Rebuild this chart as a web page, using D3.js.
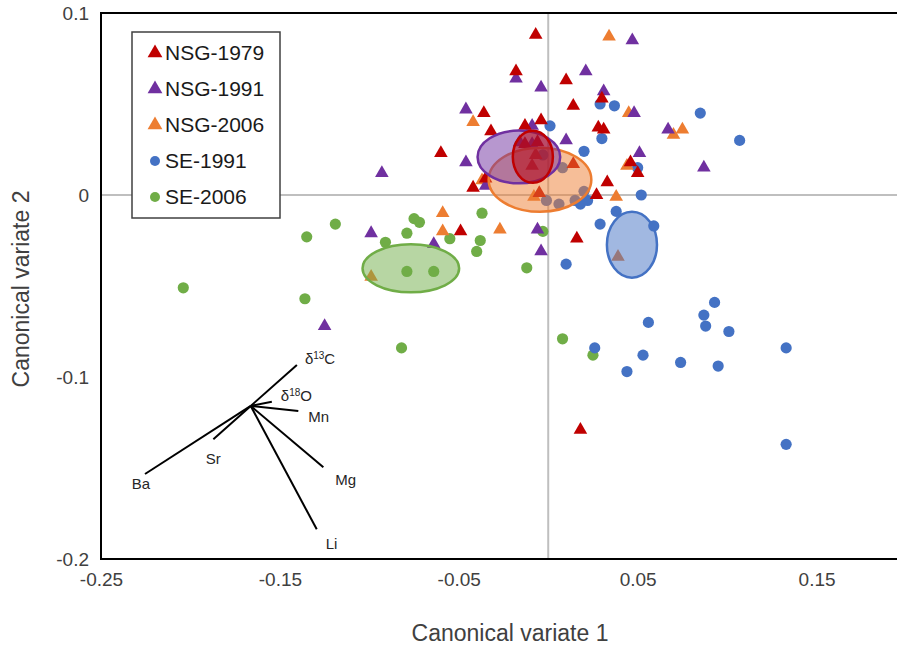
<!DOCTYPE html>
<html>
<head>
<meta charset="utf-8">
<script src="https://cdn.jsdelivr.net/npm/d3@7"></script>
<style>
  html, body { margin: 0; padding: 0; background: #fff; }
  svg { display: block; font-family: "Liberation Sans", Arial, sans-serif; }
</style>
</head>
<body>
<svg id="chart" width="897" height="650"></svg>
<script>
// ---- data: canonical variate scores per group ----
const seriesNames = ["NSG-1979", "NSG-1991", "NSG-2006", "SE-1991", "SE-2006"];
const seriesShapes = ["triangle", "triangle", "triangle", "circle", "circle"];
const seriesColors = ["#C00000", "#7030A0", "#ED7D31", "#4472C4", "#70AD47"];

const nsg1979 = [
  [-0.007, 0.088], [-0.018, 0.068], [0.010, 0.063], [0.014, 0.049], [-0.036, 0.045],
  [-0.032, 0.035], [-0.013, 0.038], [-0.004, 0.041], [-0.060, 0.023], [-0.042, 0.004],
  [-0.035, 0.009], [-0.013, 0.028], [-0.006, 0.029], [-0.009, 0.016], [-0.007, 0.022],
  [0.027, 0.000], [0.033, 0.007], [0.030, 0.053], [0.028, 0.037], [0.031, 0.036],
  [0.046, 0.018], [0.050, 0.012], [-0.049, -0.020], [0.016, -0.024], [0.018, -0.129],
  [0.014, 0.017], [-0.005, 0.001]
];
const nsg1991 = [
  [-0.018, 0.064], [-0.004, 0.059], [0.021, 0.068], [-0.046, 0.047], [-0.009, 0.038],
  [0.010, 0.030], [-0.046, 0.018], [-0.093, 0.012], [-0.035, 0.005], [-0.016, 0.029],
  [0.031, 0.057], [0.048, 0.045], [0.047, 0.085], [0.067, 0.036], [0.051, 0.023],
  [0.087, 0.015], [-0.064, -0.027], [-0.006, -0.019], [-0.004, -0.031], [-0.099, -0.021],
  [-0.125, -0.072], [-0.009, 0.028]
];
const nsg2006 = [
  [0.034, 0.087], [-0.042, 0.040], [0.045, 0.045], [0.070, 0.033], [0.075, 0.036],
  [0.044, 0.016], [0.038, -0.001], [-0.037, 0.008], [-0.008, -0.001], [-0.059, -0.010],
  [-0.059, -0.020], [-0.027, -0.019], [-0.099, -0.045], [0.039, -0.034]
];
const se1991 = [
  [0.001, 0.038], [0.020, 0.024], [0.029, 0.050], [0.037, 0.049], [0.085, 0.045],
  [0.030, 0.031], [0.107, 0.030], [0.050, 0.015], [0.052, 0.000], [0.008, 0.015],
  [-0.003, 0.022], [-0.001, -0.003], [0.006, -0.005], [0.015, -0.003], [0.020, 0.002],
  [0.018, -0.005], [0.022, -0.003], [0.038, -0.009], [0.029, -0.016], [0.059, -0.017],
  [0.010, -0.038], [0.093, -0.059], [0.087, -0.066], [0.088, -0.072], [0.056, -0.070],
  [0.101, -0.075], [0.133, -0.084], [0.053, -0.088], [0.074, -0.092], [0.095, -0.094],
  [0.044, -0.097], [0.026, -0.084], [0.133, -0.137]
];
const se2006 = [
  [-0.075, -0.013], [-0.072, -0.015], [-0.037, -0.010], [-0.079, -0.021], [-0.055, -0.024],
  [-0.091, -0.026], [-0.038, -0.025], [-0.040, -0.031], [-0.003, -0.020], [-0.012, -0.040],
  [-0.079, -0.042], [-0.064, -0.042], [0.008, -0.079], [-0.082, -0.084], [0.025, -0.088],
  [-0.119, -0.016], [-0.135, -0.023], [-0.204, -0.051], [-0.136, -0.057]
];
const seriesValues = [nsg1979, nsg1991, nsg2006, se1991, se2006];

// group centroid ellipses: [cx, cy, rx, ry] in canonical-variate units
const ellipses = [
  [-0.0768, -0.0403, 0.0270, 0.0132],  // SE-2006
  [0.0468, -0.0273, 0.0140, 0.0181],   // SE-1991
  [-0.0046, 0.0084, 0.0287, 0.0176],   // NSG-2006
  [-0.0164, 0.0209, 0.0231, 0.0145],   // NSG-1991
  [-0.0086, 0.0210, 0.0112, 0.0143]    // NSG-1979
];
const ellipseSeries = [4, 3, 2, 1, 0];

// structure coefficients (biplot vectors)
const vectorOrigin = [-0.1663, -0.1159];
const vectorNames = ["δ13C", "δ18O", "Mn", "Mg", "Li", "Sr", "Ba"];
const vectorEnds = [
  [-0.1405, -0.0934], [-0.1545, -0.1136], [-0.1397, -0.1187], [-0.1257, -0.1496],
  [-0.1294, -0.1837], [-0.1872, -0.1342], [-0.2254, -0.1533]
];

const xTicks = [-0.25, -0.15, -0.05, 0.05, 0.15];
const xTickLabels = ["-0.25", "-0.15", "-0.05", "0.05", "0.15"];
const yTicks = [0.1, 0, -0.1, -0.2];
const yTickLabels = ["0.1", "0", "-0.1", "-0.2"];

// ---- layout ----
const svg = d3.select("#chart");
const plot = { left: 101, right: 906, top: 13, bottom: 559 };
const x = d3.scaleLinear().domain([-0.25, 0.2]).range([plot.left, plot.right]);
const y = d3.scaleLinear().domain([-0.2, 0.1]).range([plot.bottom, plot.top]);

// zero reference lines
svg.append("line")
  .attr("x1", plot.left).attr("x2", plot.right)
  .attr("y1", y(0)).attr("y2", y(0))
  .attr("stroke", "#bfbfbf").attr("stroke-width", 2);
svg.append("line")
  .attr("x1", x(0)).attr("x2", x(0))
  .attr("y1", plot.top).attr("y2", plot.bottom)
  .attr("stroke", "#bfbfbf").attr("stroke-width", 2);

// axes (labels only)
const xAxis = svg.append("g")
  .attr("transform", `translate(0,${plot.bottom})`)
  .call(d3.axisBottom(x).tickValues(xTicks).tickSize(0).tickPadding(14)
    .tickFormat((d, i) => xTickLabels[i]));
const yAxis = svg.append("g")
  .attr("transform", `translate(${plot.left},0)`)
  .call(d3.axisLeft(y).tickValues(yTicks).tickSize(0).tickPadding(12)
    .tickFormat((d, i) => yTickLabels[i]));
[xAxis, yAxis].forEach(g => {
  g.select(".domain").remove();
  g.selectAll("text")
    .attr("font-family", "Liberation Sans, Arial, sans-serif")
    .attr("font-size", 19).attr("fill", "#404040");
});

// axis titles
svg.append("text")
  .attr("x", 510).attr("y", 641)
  .attr("text-anchor", "middle")
  .attr("font-size", 23).attr("fill", "#404040")
  .text("Canonical variate 1");
svg.append("text")
  .attr("transform", `translate(29,289) rotate(-90)`)
  .attr("text-anchor", "middle")
  .attr("font-size", 23).attr("fill", "#404040")
  .text("Canonical variate 2");

// points
const triangle = d3.symbol().type(d3.symbolTriangle).size(80);
const drawOrder = [4, 3, 2, 1, 0];
drawOrder.forEach(si => {
  const g = svg.append("g");
  if (seriesShapes[si] === "triangle") {
    g.selectAll("path").data(seriesValues[si]).join("path")
      .attr("d", triangle)
      .attr("transform", d => `translate(${x(d[0])},${y(d[1])})`)
      .attr("fill", seriesColors[si]);
  } else {
    g.selectAll("circle").data(seriesValues[si]).join("circle")
      .attr("cx", d => x(d[0])).attr("cy", d => y(d[1]))
      .attr("r", 5.6)
      .attr("fill", seriesColors[si]);
  }
});

// ellipses
svg.append("g").selectAll("ellipse").data(ellipses).join("ellipse")
  .attr("cx", d => x(d[0]))
  .attr("cy", d => y(d[1]))
  .attr("rx", d => x(d[0] + d[2]) - x(d[0]))
  .attr("ry", d => y(d[1] - d[3]) - y(d[1]))
  .attr("fill", (d, i) => seriesColors[ellipseSeries[i]])
  .attr("fill-opacity", 0.5)
  .attr("stroke", (d, i) => seriesColors[ellipseSeries[i]])
  .attr("stroke-width", 2.5);

// biplot vectors
svg.append("g").selectAll("line").data(vectorEnds).join("line")
  .attr("x1", x(vectorOrigin[0])).attr("y1", y(vectorOrigin[1]))
  .attr("x2", d => x(d[0])).attr("y2", d => y(d[1]))
  .attr("stroke", "#000").attr("stroke-width", 2);

const vectorLabelOffsets = [[8, -1], [9, -1], [10, 11], [12, 18], [9, 20], [0, 25], [-4, 15]];
const vectorLabelAnchors = ["start", "start", "start", "start", "start", "middle", "middle"];
const vl = svg.append("g").attr("font-size", 15).attr("fill", "#262626");
vectorNames.forEach((name, i) => {
  const t = vl.append("text")
    .attr("x", x(vectorEnds[i][0]) + vectorLabelOffsets[i][0])
    .attr("y", y(vectorEnds[i][1]) + vectorLabelOffsets[i][1])
    .attr("text-anchor", vectorLabelAnchors[i]);
  const m = name.match(/^δ(\d+)(\w)$/);
  if (m) {
    t.append("tspan").text("δ");
    t.append("tspan").attr("font-size", 10).attr("dy", -5).text(m[1]);
    t.append("tspan").attr("dy", 5).text(m[2]);
  } else {
    t.text(name);
  }
});

// plot frame
svg.append("rect")
  .attr("x", plot.left).attr("y", plot.top)
  .attr("width", plot.right - plot.left).attr("height", plot.bottom - plot.top)
  .attr("fill", "none").attr("stroke", "#000").attr("stroke-width", 2);

// legend
const legend = svg.append("g").attr("transform", "translate(132,32)");
legend.append("rect")
  .attr("width", 148).attr("height", 186)
  .attr("fill", "#fff").attr("stroke", "#404040").attr("stroke-width", 1.5);
const legendTriangle = d3.symbol().type(d3.symbolTriangle).size(95);
seriesNames.forEach((name, i) => {
  const cy = 20 + i * 36;
  if (seriesShapes[i] === "triangle") {
    legend.append("path").attr("d", legendTriangle)
      .attr("transform", `translate(23,${cy + 1})`)
      .attr("fill", seriesColors[i]);
  } else {
    legend.append("circle").attr("cx", 23).attr("cy", cy + 1).attr("r", 5)
      .attr("fill", seriesColors[i]);
  }
  legend.append("text")
    .attr("x", 33).attr("y", cy + 8)
    .attr("font-size", 21).attr("fill", "#1a1a1a")
    .text(name);
});
</script>
</body>
</html>
